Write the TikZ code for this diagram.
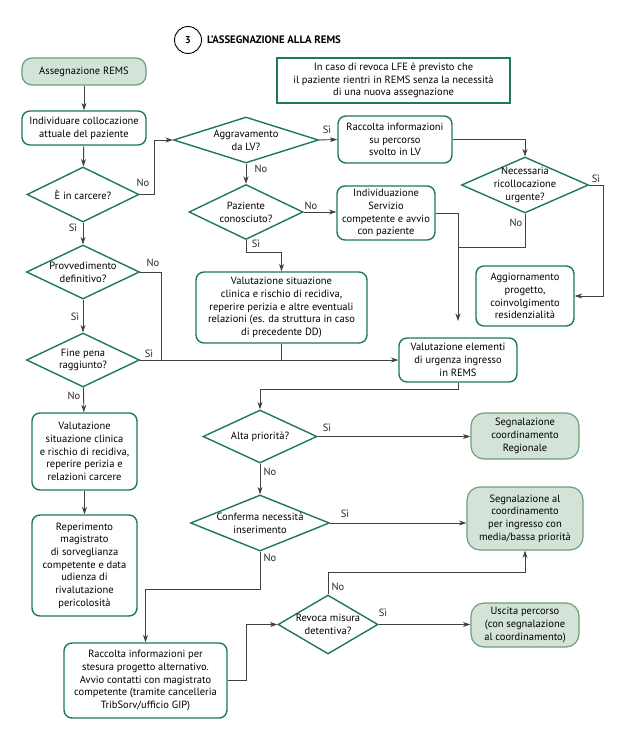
\documentclass[tikz,border=0pt]{standalone}
\usepackage{fontspec}
\setmainfont{PT Sans}
\usetikzlibrary{shapes.geometric,arrows.meta}

\definecolor{remsgreen}{RGB}{30,122,82}
\definecolor{endfill}{RGB}{212,227,216}
\definecolor{endline}{RGB}{110,158,124}
\definecolor{linegray}{RGB}{64,64,64}

\begin{document}
\begin{tikzpicture}
[x=1pt,y=-1pt,%
  every node/.style={inner sep=0pt,align=center,font=\fontsize{10.5}{12.7}\selectfont},%
  box/.style={shape=rectangle,rounded corners=8pt,draw=remsgreen,line width=1.4pt,fill=white},%
  endbox/.style={shape=rectangle,rounded corners=13pt,draw=endline,line width=1.2pt,fill=endfill},%
  dec/.style={shape=diamond,draw=remsgreen,line width=1.4pt,inner xsep=-25pt,inner ysep=-10pt,%
    minimum width=113pt,minimum height=55pt},%
  lbl/.style={text=black!85},%
  conn/.style={draw=linegray,line width=0.9pt},%
  arr/.style={conn,-{Stealth[length=7.5pt,width=5pt]}}]
\useasboundingbox (0,0) rectangle (622,738);
\node[shape=circle,draw,line width=0.9pt,minimum size=27pt,font=\bfseries\fontsize{10}{12}\selectfont] (num) at (188,40) {3};
\node[anchor=west,font=\bfseries\fontsize{10.8}{13}\selectfont] (title) at (207,40) {L’ASSEGNAZIONE ALLA REMS};
\node[shape=rectangle,draw=remsgreen,line width=1.4pt,minimum width=233pt,minimum height=45pt] (note) at (393.5,80.5)
  {In caso di revoca LFE è previsto che\\il paziente rientri in REMS senza la necessità\\di una nuova assegnazione};
\node[endbox,rounded corners=10pt,minimum width=124pt,minimum height=27pt] (start) at (84,71.5) {Assegnazione REMS};
\node[box,minimum width=124pt,minimum height=34pt] (ind) at (84,128) {Individuare collocazione\\attuale del paziente};
\node[dec,minimum width=112pt] (carc) at (83,194.5) {È in carcere?};
\node[dec,minimum width=145pt,minimum height=46pt] (aggr) at (246,140) {Aggravamento\\da LV?};
\node[dec,minimum width=114pt] (paz) at (246,212) {Paziente\\conosciuto?};
\node[box,minimum width=114pt,minimum height=47pt] (racc) at (395,139.5) {Raccolta informazioni\\su percorso\\svolto in LV};
\node[box,minimum width=98pt,minimum height=54pt] (indiv) at (386,213) {Individuazione\\Servizio\\competente e avvio\\con paziente};
\node[dec,minimum width=127pt,minimum height=56pt] (nec) at (525,185) {Necessaria\\ricollocazione\\urgente?};
\node[box,minimum width=98pt,minimum height=60pt] (agg) at (525,296) {Aggiornamento\\progetto,\\coinvolgimento\\residenzialità};
\node[box,minimum width=171pt,minimum height=71pt] (valc) at (281.5,307.5)
  {Valutazione situazione\\clinica e rischio di recidiva,\\reperire perizia e altre eventuali\\relazioni (es. da struttura in caso\\di precedente DD)};
\node[dec,minimum height=54pt] (prov) at (83,272) {Provvedimento\\definitivo?};
\node[dec,minimum height=54pt] (fine) at (83,360) {Fine pena\\raggiunto?};
\node[box,minimum width=118pt,minimum height=44pt] (vale) at (458,360) {Valutazione elementi\\di urgenza ingresso\\in REMS};
\node[box,minimum width=105pt,minimum height=77pt] (valr) at (84.5,451.5)
  {Valutazione\\situazione clinica\\e rischio di recidiva,\\reperire perizia e\\relazioni carcere};
\node[box,minimum width=105pt,minimum height=101pt] (rep) at (84.5,565.5)
  {Reperimento\\magistrato\\di sorveglianza\\competente e data\\udienza di\\rivalutazione\\pericolosità};
\node[dec,minimum width=114pt,minimum height=53pt] (alta) at (260,436.5) {Alta priorità?};
\node[endbox,minimum width=108pt,minimum height=46pt] (segr) at (525,436) {Segnalazione\\coordinamento\\Regionale};
\node[dec,minimum width=139pt,minimum height=56pt] (conf) at (260,523) {Conferma necessità\\inserimento};
\node[endbox,minimum width=116pt,minimum height=63pt] (segm) at (525,518.5)
  {Segnalazione al\\coordinamento\\per ingresso con\\media/bassa priorità};
\node[box,minimum width=163pt,minimum height=75pt] (racs) at (145.5,680.5)
  {Raccolta informazioni per\\stesura progetto alternativo.\\Avvio contatti con magistrato\\competente (tramite cancelleria\\TribSorv/ufficio GIP)};
\node[dec,minimum width=100pt,minimum height=59pt] (rev) at (328,624.5) {Revoca misura\\detentiva?};
\node[endbox,minimum width=108pt,minimum height=44pt] (usc) at (525,625)
  {Uscita percorso\\(con segnalazione\\al coordinamento)};
\coordinate (provJoin) at (161,360);
\coordinate (necJoin) at (458,247);
\coordinate (veIn) at (458,321);
\draw[arr] (start) -- (ind);
\draw[arr] (ind) -- (carc);
\draw[arr] (carc.east) -- ++(15,0) |- (aggr.west);
\draw[arr] (carc) -- (prov);
\draw[arr] (prov) -- (fine);
\draw[arr] (fine) -- (valr);
\draw[arr] (valr) -- (rep);
\draw[conn] (prov.east) -| (provJoin);
\draw[arr] (fine.east) -- (vale.west);
\draw[conn] (valc.south) -- (valc.south |- fine.east);
\draw[arr] (aggr.east) -- (racc.west);
\draw[arr] (aggr) -- (paz);
\draw[arr] (paz.east) -- (paz.east -| indiv.west);
\draw[arr] (paz.south) -- ++(0,12) -| (valc.north);
\draw[arr] (racc.east) -| (nec.north);
\draw[arr] (nec.east) -- ++(14,0) |- (agg.east);
\draw[arr] (indiv.east) -| (veIn);
\draw[conn] (nec.south) |- (necJoin);
\draw[arr] (vale.south) -- ++(0,7) -| (alta.north);
\draw[arr] (alta.east) -- (alta.east -| segr.west);
\draw[arr] (alta) -- (conf);
\draw[arr] (conf.east) -- (conf.east -| segm.west);
\draw[arr] (conf.south) -- ++(0,38) -| (racs.north);
\draw[arr] (racs.east) -- ++(19,0) |- (rev.west);
\draw[arr] (rev.east) -- (rev.east -| usc.west);
\draw[arr] (rev.north) -- ++(0,-22) -| (segm.south);
\node[lbl] (lCarcNo) at (143,183) {No};
\node[lbl] (lCarcSi) at (73,228) {Sì};
\node[lbl] (lAggrSi) at (327,130) {Sì};
\node[lbl] (lAggrNo) at (261,169) {No};
\node[lbl] (lPazNo) at (311,206) {No};
\node[lbl] (lPazSi) at (256,244) {Sì};
\node[lbl] (lNecSi) at (596,179) {Sì};
\node[lbl] (lNecNo) at (516,223) {No};
\node[lbl] (lProvNo) at (153,263) {No};
\node[lbl] (lProvSi) at (75,317) {Sì};
\node[lbl] (lFineSi) at (149,354) {Sì};
\node[lbl] (lFineNo) at (74,396) {No};
\node[lbl] (lAltaSi) at (327,428) {Sì};
\node[lbl] (lAltaNo) at (270,472) {No};
\node[lbl] (lConfSi) at (345,514) {Sì};
\node[lbl] (lConfNo) at (270,558) {No};
\node[lbl] (lRevNo) at (338,587) {No};
\node[lbl] (lRevSi) at (383,613) {Sì};
\end{tikzpicture}
\end{document}
